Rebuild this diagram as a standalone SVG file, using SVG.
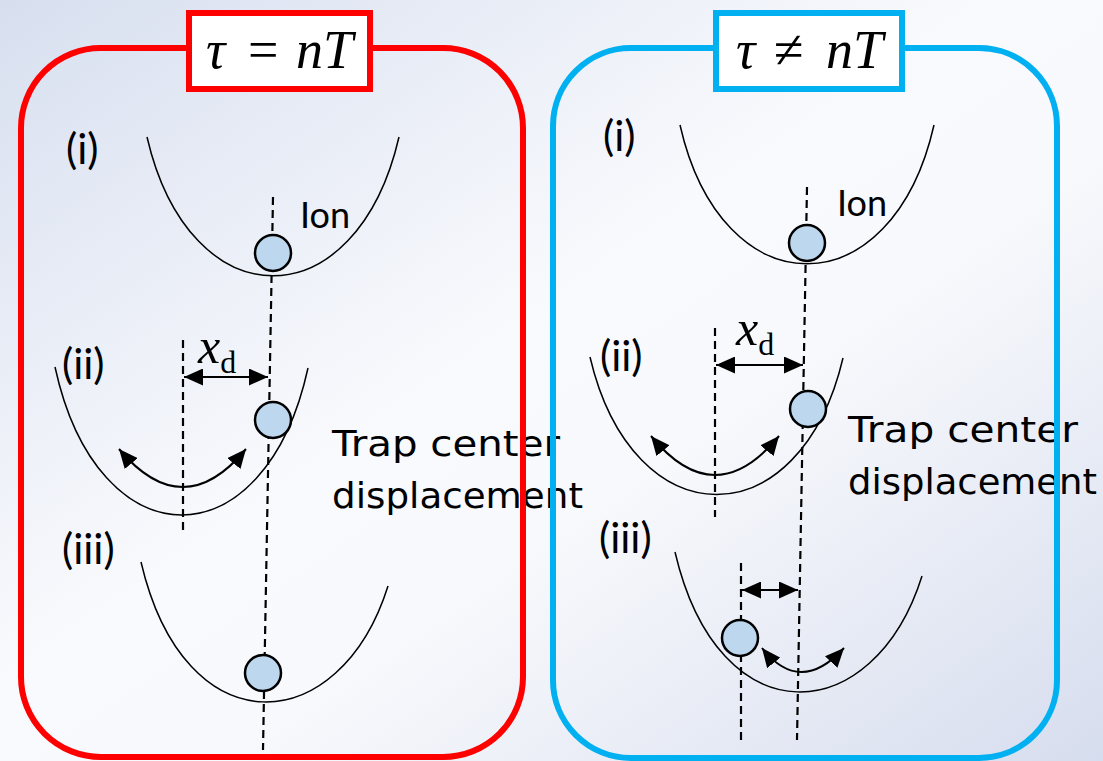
<svg xmlns="http://www.w3.org/2000/svg" width="1103" height="761" viewBox="0 0 1103 761">
  <defs>
    <linearGradient id="bg" x1="0" y1="0" x2="1" y2="1">
      <stop offset="0" stop-color="#d7dfef"/>
      <stop offset="0.45" stop-color="#f9fafd"/>
      <stop offset="0.6" stop-color="#f8f9fc"/>
      <stop offset="1" stop-color="#d6ddee"/>
    </linearGradient>
    <marker id="ah" markerUnits="userSpaceOnUse" markerWidth="19" markerHeight="17" viewBox="0 0 19 17" refX="19" refY="8.5" orient="auto-start-reverse">
      <path d="M0,0 L19,8.5 L0,17 z" fill="#000"/>
    </marker>
    <style>
      .well { fill: none; stroke: #000; stroke-width: 1.5; }
      .osc { fill: none; stroke: #000; stroke-width: 2; marker-start: url(#ah); marker-end: url(#ah); }
      .dash { stroke: #000; stroke-width: 2.2; stroke-dasharray: 8 5; fill: none; }
      .ion { fill: #bdd7ee; stroke: #000; stroke-width: 2.5; }
      .lbl { font-family: Lato, "Open Sans", "Liberation Sans", sans-serif; font-size: 42px; fill: #000; }
      .ionl { font-family: Lato, "Open Sans", "Liberation Sans", sans-serif; font-size: 36px; fill: #000; }
      .comic { font-family: "DejaVu Sans", "Liberation Sans", sans-serif; font-size: 36px; fill: #000; }
      .math { font-family: "Liberation Serif", "DejaVu Serif", serif; fill: #000; }
      .it { font-style: italic; }
      .frame { fill: none; stroke-width: 6; }
      .title { fill: #fff; stroke-width: 6; }
    </style>
  </defs>

  <rect x="0" y="0" width="1103" height="761" fill="url(#bg)"/>

  <!-- labels behind frames -->
  <g id="label-left-displacement">
    <text class="comic" x="332" y="456" textLength="228" lengthAdjust="spacingAndGlyphs">Trap center</text>
    <text class="comic" x="332" y="508" textLength="251" lengthAdjust="spacingAndGlyphs">displacement</text>
  </g>
  <g id="label-right-displacement">
    <text class="comic" x="848" y="442" textLength="230" lengthAdjust="spacingAndGlyphs">Trap center</text>
    <text class="comic" x="848" y="494" textLength="249" lengthAdjust="spacingAndGlyphs">displacement</text>
  </g>

  <!-- frames -->
  <g id="frame-left">
    <rect class="frame" x="21" y="48" width="502" height="709" rx="80" ry="80" stroke="#ff0000"/>
    <rect class="title" x="189" y="13" width="181" height="76" stroke="#ff0000"/>
    <text class="math" y="68" font-size="54"><tspan class="it" x="206">τ</tspan><tspan x="248">=</tspan><tspan class="it" x="296">nT</tspan></text>
  </g>
  <g id="frame-right">
    <rect class="frame" x="553" y="48" width="504" height="710" rx="78" ry="78" stroke="#00b0f0"/>
    <rect class="title" x="716" y="13" width="186" height="76" stroke="#00b0f0"/>
    <text class="math" y="68" font-size="54"><tspan class="it" x="736">τ</tspan><tspan x="774">≠</tspan><tspan class="it" x="826">nT</tspan></text>
  </g>

  <!-- step labels -->
  <g id="labels-left">
    <text class="lbl" x="66" y="164">(i)</text>
    <text class="lbl" x="62" y="379">(ii)</text>
    <text class="lbl" x="62" y="564">(iii)</text>
    <text class="ionl" x="300" y="228">Ion</text>
  </g>
  <g id="labels-right">
    <text class="lbl" x="603" y="151">(i)</text>
    <text class="lbl" x="600" y="371">(ii)</text>
    <text class="lbl" x="599" y="553">(iii)</text>
    <text class="ionl" x="837" y="216">Ion</text>
  </g>

  <!-- wells -->
  <g id="wells">
    <path class="well" d="M147,137 C190,322 356,322 399,137"/>
    <path class="well" d="M55,367 C98,564 265,564 308,368"/>
    <path class="well" d="M141,562 C185,750 340,739 388,586"/>
    <path class="well" d="M680,125 C722,310 892,310 934,125"/>
    <path class="well" d="M590,357 C633,540 800,540 843,358"/>
    <path class="well" d="M675,552 C719,740 874,729 922,576"/>
  </g>

  <!-- connectors: dashed axes, arrows -->
  <g id="connectors">
    <line class="dash" x1="273" y1="197" x2="263" y2="750"/>
    <line class="dash" x1="183" y1="340" x2="183" y2="530"/>
    <line class="dash" x1="807" y1="187" x2="797" y2="740"/>
    <line class="dash" x1="715" y1="328" x2="715" y2="517"/>
    <line class="dash" x1="741" y1="563" x2="741" y2="740"/>

    <path class="osc" d="M119,449 Q183,525 246,449"/>
    <path class="osc" d="M651,436 Q715,514 779,436"/>
    <path class="osc" d="M762,648 Q800,696 844,648"/>

    <line class="osc" x1="184" y1="377" x2="268" y2="377"/>
    <line class="osc" x1="716" y1="365" x2="803" y2="365"/>
    <line class="osc" x1="742" y1="590" x2="798" y2="590"/>
  </g>

  <g id="xd-left">
    <text class="math" x="198" y="363"><tspan class="it" font-size="50">x</tspan><tspan font-size="32" dy="10">d</tspan></text>
  </g>
  <g id="xd-right">
    <text class="math" x="736" y="345"><tspan class="it" font-size="50">x</tspan><tspan font-size="32" dy="10">d</tspan></text>
  </g>

  <!-- ions -->
  <g id="ion-left-i"><circle class="ion" cx="273" cy="253" r="18"/></g>
  <g id="ion-left-ii"><circle class="ion" cx="273" cy="420" r="18"/></g>
  <g id="ion-left-iii"><circle class="ion" cx="263" cy="673" r="18"/></g>
  <g id="ion-right-i"><circle class="ion" cx="807" cy="243" r="18"/></g>
  <g id="ion-right-ii"><circle class="ion" cx="808" cy="409" r="18"/></g>
  <g id="ion-right-iii"><circle class="ion" cx="740" cy="638" r="18"/></g>
</svg>
